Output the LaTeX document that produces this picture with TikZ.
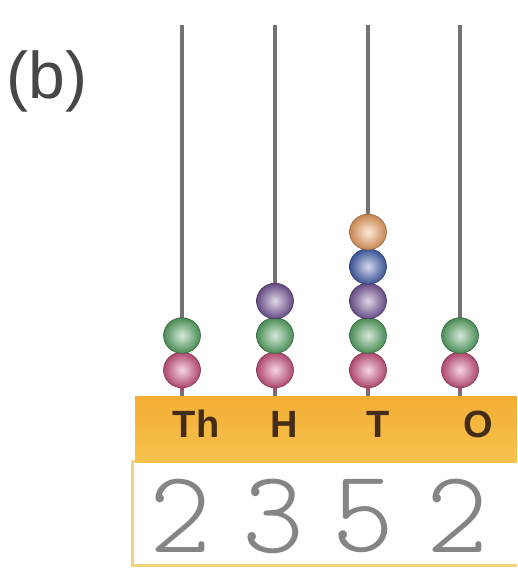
\documentclass[tikz,border=0pt]{standalone}
\usepackage{fontspec}
\setmainfont{Liberation Sans}
\newfontfamily\hand{Latin Modern Mono Light}
\begin{document}
\begin{tikzpicture}[x=1pt,y=-1pt,
  rod/.style={draw=black!55, line width=3.4pt},
  place/.style={font=\fontsize{38}{40}\selectfont\bfseries, text=brown!35!black, inner sep=0pt},
  digit/.style={font=\hand\fontsize{118}{118}\selectfont, text=black!48, inner sep=0pt},
  bead/.style={inner color=#1!25!white, outer color=#1!80!black, draw=#1!60!black, line width=0.6pt}]
\useasboundingbox (0,0) rectangle (517,570);
\fill[white] (0,0) rectangle (517,570);

% caption
\node[font=\fontsize{66}{68}\selectfont, text=black!72, inner sep=0pt] (cap) at (47,81) {(b)};

% rods
\foreach \x [count=\i] in {182,275,368,460}
  \draw[rod] (\x,25) -- (\x,396);

% bead and table colours
\definecolor{bred}{HTML}{D8598A}
\definecolor{bgreen}{HTML}{5CAE6A}
\definecolor{bpurple}{HTML}{7E5CA2}
\definecolor{bblue}{HTML}{4A66B8}
\definecolor{borange}{HTML}{F8A865}
\definecolor{barTop}{HTML}{F3AE34}
\definecolor{barBot}{HTML}{F8C24E}
\definecolor{rim}{HTML}{F4D47A}

% beads: column x, then bead colours bottom to top
\foreach \x/\list in {182/{bred,bgreen},275/{bred,bgreen,bpurple},368/{bred,bgreen,bpurple,bblue,borange},460/{bred,bgreen}}{
  \foreach \c [count=\k from 0] in \list {
    \shade[bead=\c] (\x,{370-34.5*\k}) ellipse (18.5 and 17.8);
  }
  \fill[bred!80!black] (\x-3,386) -- (\x+3,386) -- (\x,393) -- cycle;
}

% place-value table
\fill[rim] (131,460) rectangle (517,567);
\fill[white] (134,462) rectangle (517,564);
\shade[top color=barTop, bottom color=barBot] (135,396) rectangle (517,462);

\node[place] (th) at (196,424) {Th};
\node[place] (h)  at (284,424) {H};
\node[place] (t)  at (378,424) {T};
\node[place] (o)  at (478,424) {O};

\node[digit] (d1) at (180,516) {2};
\node[digit] (d2) at (273,516) {3};
\node[digit] (d3) at (363,516) {5};
\node[digit] (d4) at (457,516) {2};
\end{tikzpicture}
\end{document}
